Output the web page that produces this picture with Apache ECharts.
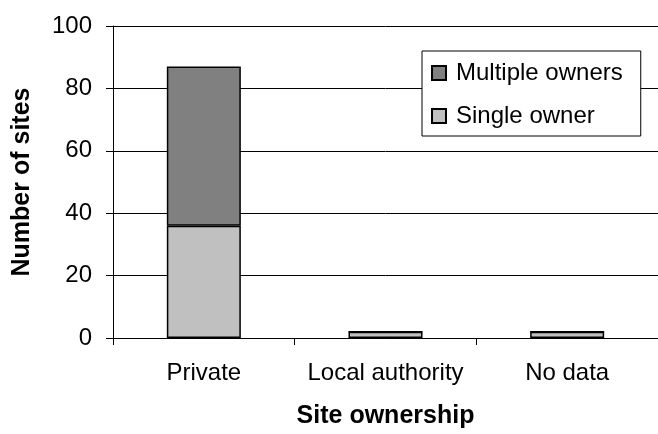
<!DOCTYPE html>
<html><head><meta charset="utf-8">
<script src="https://cdn.jsdelivr.net/npm/echarts@6/dist/echarts.min.js"></script>
<style>html,body{margin:0;padding:0;background:#fff}#c{width:658px;height:434px}</style>
</head><body><div id="c"></div>
<script>
var categories = ['Private', 'Local authority', 'No data'];
var singleOwner = [36, 2, 2];
var multipleOwners = [51, 0, 0];
var yTicks = [0, 20, 40, 60, 80, 100];

var chart = echarts.init(document.getElementById('c'), null, {renderer: 'canvas'});
var font = 'Liberation Sans, Arial, sans-serif';
chart.setOption({
  animation: false,
  backgroundColor: '#fff',
  textStyle: {fontFamily: font},
  grid: {left: 113, top: 26, height: 315, width: 552, containLabel: false},
  legend: {
    orient: 'vertical', left: 422, top: 51,
    padding: [10, 18, 8, 9], itemGap: 19,
    itemWidth: 14, itemHeight: 14,
    borderColor: '#000', borderWidth: 1, backgroundColor: '#fff',
    textStyle: {fontFamily: font, fontSize: 24, color: '#000', padding: [0, 0, 0, 5]},
    data: [
      {name: 'Multiple owners', icon: 'rect'},
      {name: 'Single owner', icon: 'rect'}
    ]
  },
  xAxis: {
    type: 'category', data: categories,
    name: 'Site ownership', nameLocation: 'middle', nameGap: 66,
    nameTextStyle: {fontFamily: font, fontSize: 25, fontWeight: 'bold', color: '#000'},
    axisLine: {lineStyle: {color: '#000', width: 1}},
    axisTick: {show: true, length: 7, lineStyle: {color: '#000'}},
    axisLabel: {fontFamily: font, fontSize: 24, color: '#000', margin: 23, interval: 0, hideOverlap: false},
    splitLine: {show: false}
  },
  yAxis: {
    type: 'value', min: yTicks[0], max: yTicks[yTicks.length - 1], interval: 20,
    name: 'Number of sites', nameLocation: 'middle', nameGap: 78,
    nameTextStyle: {fontFamily: font, fontSize: 25, fontWeight: 'bold', color: '#000'},
    axisLine: {show: true, lineStyle: {color: '#000', width: 1}},
    axisTick: {show: true, length: 7, lineStyle: {color: '#000'}},
    axisLabel: {fontFamily: font, fontSize: 24, color: '#000', margin: 21},
    splitLine: {show: true, lineStyle: {color: '#000', width: 1}}
  },
  series: [
    {
      name: 'Single owner', type: 'bar', stack: 'a', data: singleOwner,
      barWidth: 74,
      itemStyle: {color: '#c0c0c0', borderColor: '#000', borderWidth: 1.5}
    },
    {
      name: 'Multiple owners', type: 'bar', stack: 'a', data: multipleOwners,
      barWidth: 74,
      itemStyle: {color: '#808080', borderColor: '#000', borderWidth: 1.5}
    }
  ]
});
</script></body></html>
